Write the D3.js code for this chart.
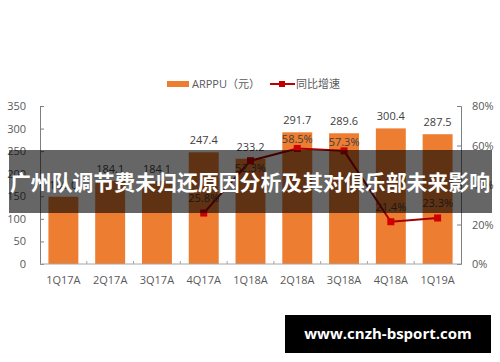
<!DOCTYPE html>
<html>
<head>
<meta charset="utf-8">
<script src="https://cdn.jsdelivr.net/npm/d3@7"></script>
<style>
  body { margin: 0; background: #fff; }
  svg text { font-family: "Open Sans", "Noto Sans CJK SC", sans-serif; }
</style>
</head>
<body>
<div id="chart"></div>
<script>
'use strict';

var quarters = ['1Q17A', '2Q17A', '3Q17A', '4Q17A', '1Q18A', '2Q18A', '3Q18A', '4Q18A', '1Q19A'];
var arppu = [149.0, 184.1, 184.1, 247.4, 233.2, 291.7, 289.6, 300.4, 287.5];
var growth = [null, null, null, 25.8, 52.3, 58.5, 57.3, 21.4, 23.3];
var leftTicks = [0, 50, 100, 150, 200, 250, 300, 350];
var rightTicks = [0, 20, 40, 60, 80];

var W = 500, H = 362;
var m = { left: 40, right: 39, top: 106, bottom: 98 };
var w = W - m.left - m.right, h = H - m.top - m.bottom;

var svg = d3.select('#chart').append('svg').attr('width', W).attr('height', H);
var g = svg.append('g').attr('transform', 'translate(' + m.left + ',' + m.top + ')');

var x = d3.scaleBand().domain(quarters).range([0, w]).paddingInner(0.36).paddingOuter(0.18);
var y = d3.scaleLinear().domain([0, 350]).range([h, 0]);
var y2 = d3.scaleLinear().domain([0, 80]).range([h, 0]);

var labelColor = '#595959';

// left axis
var yAxis = g.append('g').call(d3.axisLeft(y).tickValues(leftTicks).tickSize(-4).tickPadding(14));
yAxis.select('.domain').attr('stroke', '#7f7f7f');
yAxis.selectAll('.tick line').attr('stroke', '#7f7f7f');
yAxis.selectAll('text').attr('fill', labelColor).style('font-size', '11px');

// right axis
var y2Axis = g.append('g').attr('transform', 'translate(' + w + ',0)')
  .call(d3.axisRight(y2).tickValues(rightTicks).tickSize(-4).tickPadding(11).tickFormat(function(d) { return d + '%'; }));
y2Axis.select('.domain').attr('stroke', '#7f7f7f');
y2Axis.selectAll('.tick line').attr('stroke', '#7f7f7f');
y2Axis.selectAll('text').attr('fill', labelColor).style('font-size', '11px');

// bars
g.selectAll('.bar').data(arppu).enter().append('rect')
  .attr('x', function(d, i) { return x(quarters[i]); })
  .attr('y', function(d) { return y(d); })
  .attr('width', x.bandwidth())
  .attr('height', function(d) { return h - y(d); })
  .attr('fill', '#ED7D31');

g.selectAll('.barlabel').data(arppu).enter().append('text')
  .attr('x', function(d, i) { return x(quarters[i]) + x.bandwidth() / 2; })
  .attr('y', function(d) { return y(d) - 8; })
  .attr('text-anchor', 'middle')
  .attr('fill', '#404040')
  .style('font-size', '11px')
  .text(function(d) { return d.toFixed(1); });

// bottom axis
var step = x.step();
g.append('line').attr('x1', 0).attr('x2', w).attr('y1', h).attr('y2', h).attr('stroke', '#a6a6a6');
g.selectAll('.xtick').data(quarters.slice(1)).enter().append('line')
  .attr('x1', function(d) { return x(d) - (step - x.bandwidth()) / 2; })
  .attr('x2', function(d) { return x(d) - (step - x.bandwidth()) / 2; })
  .attr('y1', h).attr('y2', h - 3)
  .attr('stroke', '#a6a6a6');
g.selectAll('.xlabel').data(quarters).enter().append('text')
  .attr('x', function(d) { return x(d) + x.bandwidth() / 2; })
  .attr('y', h + 20)
  .attr('text-anchor', 'middle')
  .attr('fill', labelColor)
  .style('font-size', '11px')
  .text(function(d) { return d; });

// growth line
var pts = growth.map(function(v, i) { return { q: quarters[i], v: v }; }).filter(function(d) { return d.v !== null; });
var line = d3.line()
  .x(function(d) { return x(d.q) + x.bandwidth() / 2; })
  .y(function(d) { return y2(d.v); });
g.append('path').datum(pts).attr('d', line).attr('fill', 'none').attr('stroke', '#a50000').attr('stroke-width', 2);
g.selectAll('.marker').data(pts).enter().append('rect')
  .attr('x', function(d) { return x(d.q) + x.bandwidth() / 2 - 3.5; })
  .attr('y', function(d) { return y2(d.v) - 3.5; })
  .attr('width', 7).attr('height', 7)
  .attr('fill', '#d00000');
// 1Q18A label sits below its point in the source, the rest above
g.selectAll('.linelabel').data(pts).enter().append('text')
  .attr('x', function(d) { return x(d.q) + x.bandwidth() / 2; })
  .attr('y', function(d) {
    if (d.q === '1Q18A') return y2(d.v) + 11;
    if (d.v > 55) return y2(d.v) - 5;
    return y2(d.v) - 11;
  })
  .attr('text-anchor', 'middle')
  .attr('fill', '#404040')
  .style('font-size', '11px')
  .text(function(d) { return d.v.toFixed(1) + '%'; });

// legend
var lg = svg.append('g').attr('transform', 'translate(167,84)');
lg.append('rect').attr('x', 0).attr('y', -3).attr('width', 22).attr('height', 6).attr('fill', '#ED7D31');
lg.append('text').attr('x', 25).attr('y', 4).attr('fill', labelColor).style('font-size', '11px').text('ARPPU（元）');
lg.append('line').attr('x1', 103).attr('x2', 128).attr('y1', 0).attr('y2', 0).attr('stroke', '#c00000').attr('stroke-width', 2);
lg.append('rect').attr('x', 112).attr('y', -3).attr('width', 6).attr('height', 6).attr('fill', '#c00000');
lg.append('text').attr('x', 129).attr('y', 4).attr('fill', labelColor).style('font-size', '11px').text('同比增速');

// title banner overlay
svg.append('rect').attr('x', 9).attr('y', 150).attr('width', 483).attr('height', 63).attr('fill', 'rgba(0,0,0,0.6)');
svg.append('text').attr('x', 10).attr('y', 190)
  .attr('textLength', 480).attr('lengthAdjust', 'spacingAndGlyphs')
  .attr('fill', '#fff').style('font-size', '21px').style('font-weight', 'bold')
  .style('font-family', '"Noto Sans CJK SC", sans-serif')
  .text('广州队调节费未归还原因分析及其对俱乐部未来影响');

// watermark box
svg.append('rect').attr('x', 285).attr('y', 315).attr('width', 206).attr('height', 38).attr('fill', '#000');
svg.append('text').attr('x', 388).attr('y', 339).attr('text-anchor', 'middle')
  .attr('fill', '#fff').style('font-size', '15px').style('font-weight', 'bold')
  .style('font-family', '"Open Sans", sans-serif')
  .text('www.cnzh-bsport.com');
</script>
</body>
</html>
